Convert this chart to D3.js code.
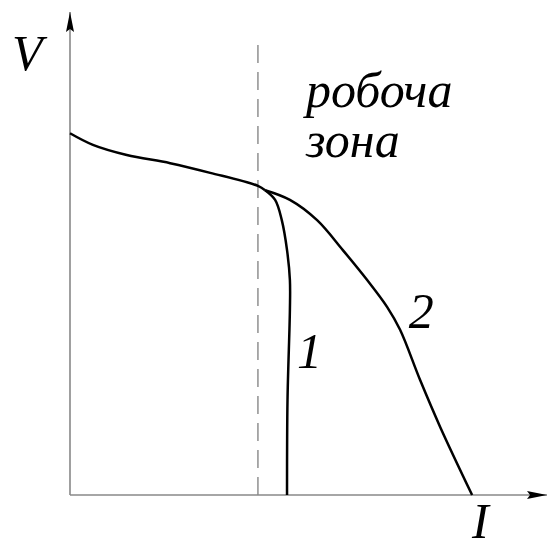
<!DOCTYPE html>
<html>
<head>
<meta charset="utf-8">
<script src="https://cdn.jsdelivr.net/npm/d3@7"></script>
<style>
  body { margin: 0; background: #fff; }
</style>
</head>
<body>
<svg width="547" height="540"></svg>
<script>
"use strict";

// common part of the characteristic (I, V)
const commonPart = [
  [0, 7.49], [0.48, 7.25], [1.19, 7.04], [2.1, 6.87], [2.94, 6.67], [3.94, 6.4], [4.09, 6.31]
];
// curve 1 after the branch point
const curve1 = [
  [4.09, 6.31], [4.3, 6.11], [4.44, 5.69], [4.55, 5.07], [4.61, 4.45], [4.61, 3.83],
  [4.56, 1.97], [4.55, 0]
];
// curve 2 after the branch point
const curve2 = [
  [4.09, 6.31], [4.61, 6.11], [5.18, 5.69], [5.72, 5.07], [6.23, 4.45], [6.65, 3.89],
  [6.92, 3.42], [7.34, 2.38], [7.76, 1.41], [8.43, 0]
];
const boundaryI = 3.94; // working zone boundary
const curveLabels = [
  { text: "1", I: 4.76, V: 2.63 },
  { text: "2", I: 7.1, V: 3.45 }
];
const zoneLabel = ["робоча", "зона"];

const svg = d3.select("svg");

const xScale = d3.scaleLinear().domain([0, 10]).range([70, 547]);
const yScale = d3.scaleLinear().domain([0, 10]).range([495, 12]);

// labels: 25px text scaled x2
function label(x, y, txt) {
  return svg.append("text")
    .attr("transform", `translate(${x},${y}) scale(2)`)
    .style("font-family", "\"Liberation Serif\"")
    .style("font-style", "italic")
    .attr("font-size", 25)
    .text(txt);
}

zoneLabel.forEach((d, i) => label(306, 107 + i * 50, d));
curveLabels.forEach(d => label(xScale(d.I), yScale(d.V), d.text));
label(12, 70, "V");
label(472, 538, "I");

// axis arrows
svg.append("defs").append("marker")
  .attr("id", "arrow")
  .attr("viewBox", "0 0 20 8")
  .attr("refX", 20).attr("refY", 4)
  .attr("markerUnits", "userSpaceOnUse")
  .attr("markerWidth", 20).attr("markerHeight", 8)
  .attr("orient", "auto")
  .append("path")
  .attr("d", "M0,0 L20,4 L0,8 L3,4 Z")
  .attr("fill", "#000");

// axes without ticks
svg.append("line")
  .attr("x1", xScale(0)).attr("y1", yScale(0))
  .attr("x2", xScale(10)).attr("y2", yScale(0))
  .attr("stroke", "#888").attr("stroke-width", 1.6)
  .attr("marker-end", "url(#arrow)");
svg.append("line")
  .attr("x1", xScale(0)).attr("y1", yScale(0))
  .attr("x2", xScale(0)).attr("y2", yScale(10))
  .attr("stroke", "#888").attr("stroke-width", 1.6)
  .attr("marker-end", "url(#arrow)");

// dashed boundary
svg.append("line")
  .attr("x1", xScale(boundaryI)).attr("y1", yScale(0))
  .attr("x2", xScale(boundaryI)).attr("y2", yScale(9.4))
  .attr("stroke", "#888").attr("stroke-width", 1.4)
  .attr("stroke-dasharray", "18,9");

const line = d3.line()
  .x(d => xScale(d[0]))
  .y(d => yScale(d[1]))
  .curve(d3.curveCatmullRom);

[commonPart, curve1, curve2].forEach(pts => {
  svg.append("path")
    .attr("d", line(pts))
    .attr("fill", "none")
    .attr("stroke", "#000")
    .attr("stroke-width", 2.5)
    .attr("stroke-linejoin", "round");
});
</script>
</body>
</html>
